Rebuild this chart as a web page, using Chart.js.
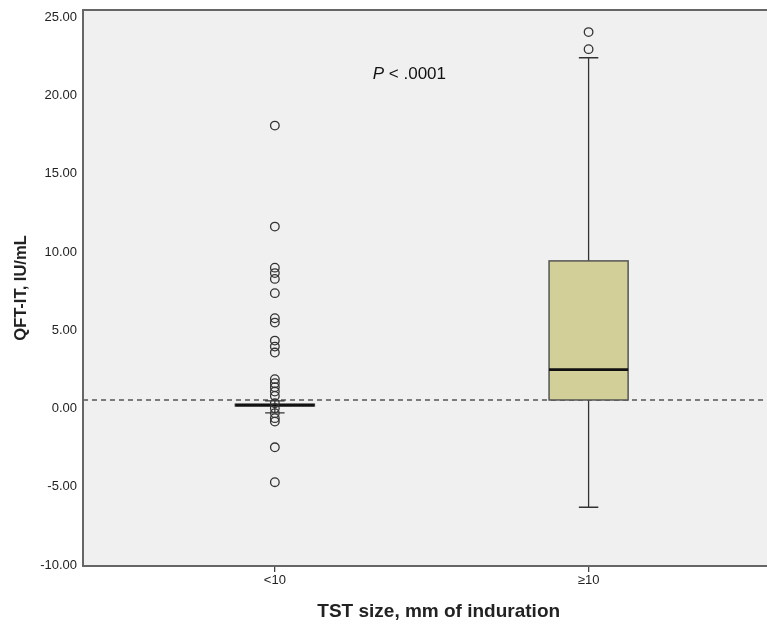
<!DOCTYPE html>
<html>
<head>
<meta charset="utf-8">
<script src="https://cdn.jsdelivr.net/npm/chart.js@4/dist/chart.umd.min.js"></script>
<style>
  html, body { margin: 0; padding: 0; background: #fff; overflow: hidden; }
  #wrap { width: 767px; height: 626px; overflow: hidden; }
</style>
</head>
<body>
<div id="wrap">
  <canvas id="myChart" width="800" height="626"></canvas>
</div>
<script>
// categories on the x axis
const groups = ["<10", "\u226510"];
const groupPos = [1, 2];

// box plot summary per group
const whiskerLow = [-0.27, -6.3];
const q1 = [0.17, 0.55];
const medians = [0.22, 2.49];
const q3 = [0.28, 9.43];
const whiskerHigh = [0.49, 22.4];

// outliers
const outliersLow = [18.07, 11.62, 9.0, 8.65, 8.28, 7.37, 5.77, 5.49, 4.34, 3.96, 3.58,
  1.88, 1.62, 1.37, 1.09, 0.81, 0.34, 0.03, -0.29, -0.61, -0.83, -2.47, -4.7];
const outliersHigh = [22.95, 24.04];

const yTicks = [-10, -5, 0, 5, 10, 15, 20, 25];
const cutoff = 0.55;

const FONT = "'Liberation Sans', Arial, sans-serif";

const boxPlugin = {
  id: "boxes",
  beforeDraw(chart) {
    const { ctx, chartArea: a } = chart;
    ctx.save();
    ctx.fillStyle = "#f0f0f0";
    ctx.fillRect(a.left, a.top, a.right - a.left, a.bottom - a.top);
    ctx.restore();
  },
  beforeDatasetsDraw(chart) {
    const { ctx, scales: { x, y }, chartArea: a } = chart;
    ctx.save();
    // reference line
    ctx.strokeStyle = "#555";
    ctx.lineWidth = 1.6;
    ctx.setLineDash([5, 4]);
    ctx.beginPath();
    ctx.moveTo(a.left, y.getPixelForValue(cutoff));
    ctx.lineTo(a.right, y.getPixelForValue(cutoff));
    ctx.stroke();
    ctx.setLineDash([]);

    const halfBox = 0.126;
    const halfCap = 0.031;
    groupPos.forEach((p, i) => {
      const cx = x.getPixelForValue(p);
      const bl = x.getPixelForValue(p - halfBox);
      const br = x.getPixelForValue(p + halfBox);
      const cl = x.getPixelForValue(p - halfCap);
      const cr = x.getPixelForValue(p + halfCap);
      const yLo = y.getPixelForValue(whiskerLow[i]);
      const yHi = y.getPixelForValue(whiskerHigh[i]);
      const yQ1 = y.getPixelForValue(q1[i]);
      const yQ3 = y.getPixelForValue(q3[i]);
      const yMed = y.getPixelForValue(medians[i]);

      ctx.strokeStyle = "#333";
      ctx.lineWidth = 1.3;
      ctx.beginPath();
      ctx.moveTo(cx, yHi); ctx.lineTo(cx, yQ3);
      ctx.moveTo(cx, yQ1); ctx.lineTo(cx, yLo);
      ctx.moveTo(cl, yHi); ctx.lineTo(cr, yHi);
      ctx.moveTo(cl, yLo); ctx.lineTo(cr, yLo);
      ctx.stroke();

      ctx.fillStyle = "#d2cf98";
      ctx.fillRect(bl, yQ3, br - bl, yQ1 - yQ3);
      ctx.strokeStyle = "#555";
      ctx.lineWidth = 1.5;
      ctx.strokeRect(bl, yQ3, br - bl, yQ1 - yQ3);

      ctx.strokeStyle = "#111";
      ctx.lineWidth = 2.6;
      ctx.beginPath();
      ctx.moveTo(bl, yMed); ctx.lineTo(br, yMed);
      ctx.stroke();
    });
    ctx.restore();
  },
  afterDraw(chart) {
    const { ctx, scales: { x, y }, chartArea: a } = chart;
    ctx.save();
    // frame
    ctx.strokeStyle = "#666";
    ctx.lineWidth = 2;
    ctx.strokeRect(a.left, a.top, a.right - a.left, a.bottom - a.top);

    // p value annotation
    const px = x.getPixelForValue(1.312);
    const py = y.getPixelForValue(21.35);
    ctx.fillStyle = "#111";
    ctx.textBaseline = "middle";
    ctx.font = "italic 17px " + FONT;
    ctx.fillText("P", px, py);
    const w = ctx.measureText("P").width;
    ctx.font = "17px " + FONT;
    ctx.fillText(" < .0001", px + w, py);
    ctx.restore();
  }
};

const ctx = document.getElementById("myChart").getContext("2d");

new Chart(ctx, {
  type: "scatter",
  data: {
    datasets: [
      {
        data: outliersLow.map(v => ({ x: groupPos[0], y: v })),
      },
      {
        data: outliersHigh.map(v => ({ x: groupPos[1], y: v })),
      },
    ],
  },
  options: {
    responsive: false,
    animation: false,
    layout: { padding: { top: 10, right: 0, left: 0, bottom: 0 } },
    elements: {
      point: {
        radius: 4.3,
        borderWidth: 1.3,
        borderColor: "#333",
        backgroundColor: "rgba(0,0,0,0)",
        hoverRadius: 4.3,
      },
    },
    plugins: {
      legend: { display: false },
      tooltip: { enabled: false },
    },
    scales: {
      x: {
        type: "linear",
        min: 0.3885,
        max: 2.656,
        afterBuildTicks: (scale) => {
          scale.ticks = groupPos.map(v => ({ value: v }));
        },
        afterFit: (scale) => {
          scale.height = 60;
          scale.paddingLeft = 0;
          scale.paddingRight = 0;
        },
        ticks: {
          callback: (v) => groups[groupPos.indexOf(v)],
          font: { family: FONT, size: 13 },
          color: "#222",
          padding: 1,
          maxRotation: 0,
        },
        grid: { drawOnChartArea: false, tickLength: 6, color: "#444", lineWidth: 1.3 },
        border: { display: false },
        title: {
          display: true,
          text: "TST size, mm of induration",
          font: { family: FONT, size: 19, weight: "bold" },
          color: "#222",
          padding: { top: 3, bottom: 3 },
        },
      },
      y: {
        min: -10.05,
        max: 25.45,
        afterBuildTicks: (scale) => {
          scale.ticks = yTicks.map(v => ({ value: v }));
        },
        afterFit: (scale) => {
          scale.width = 83;
          scale.paddingTop = 0;
          scale.paddingBottom = 0;
        },
        ticks: {
          callback: (v) => v.toFixed(2),
          font: { family: FONT, size: 13 },
          color: "#222",
          padding: 6,
        },
        grid: { drawOnChartArea: false, drawTicks: false },
        border: { display: false },
        title: {
          display: true,
          text: "QFT-IT, IU/mL",
          font: { family: FONT, size: 16.5, weight: "bold" },
          color: "#222",
          padding: { top: 12, bottom: 0 },
        },
      },
    },
  },
  plugins: [boxPlugin],
});
</script>
</body>
</html>
